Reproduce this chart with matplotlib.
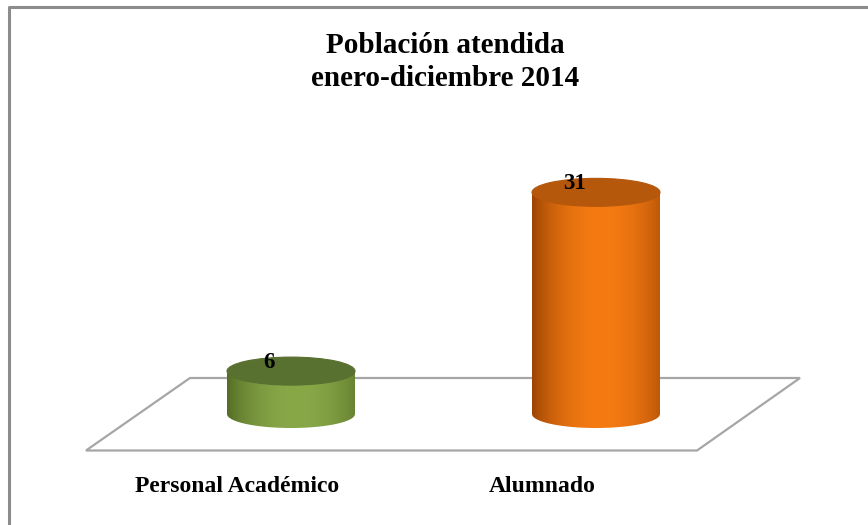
import numpy as np
import matplotlib
matplotlib.use("Agg")
import matplotlib.pyplot as plt
from matplotlib.patches import Ellipse, PathPatch, Polygon
from matplotlib.path import Path
from matplotlib.colors import to_rgb

# data
categories = ["Personal Académico", "Alumnado"]
values = [6, 31]
title = "Población atendida\nenero-diciembre 2014"

# styles per bar: (edge dark, highlight, top colour)
bar_colors = [
    ("#4a611e", "#88a848", "#587030"),
    ("#8a3a00", "#f57a12", "#b5580c"),
]

# layout (pixel-ish x, value units on y)
W, H = 868, 525
px_per_unit = 7.15
base_px = 414
centers = [291, 596]
half_w = 64
ell_h = 14 / px_per_unit          # half-height of ellipses in value units
label_shift = -54                 # category labels sit on the floor's front edge

fig = plt.figure(figsize=(W / 100, H / 100), dpi=100)
ax = fig.add_axes([0, 0, 1, 1])
ax.set_xlim(0, W)
ax.set_ylim(-(H - base_px) / px_per_unit, base_px / px_per_unit)
ax.axis("off")

def py(p):
    # pixel row -> value units
    return (base_px - p) / px_per_unit

# outer frame (only left/top edges are visible)
ax.plot([8.5, 8.5, W], [py(H), py(6.5), py(6.5)], color="#8c8c8c", lw=2.2,
        solid_capstyle="butt", zorder=1)

# floor
floor = Polygon([(190, py(378)), (800, py(378)), (697, py(450.5)), (86, py(450.5))],
                closed=True, fc="white", ec="#a6a6a6", lw=1.6, zorder=2)
ax.add_patch(floor)

def shade(dark, light, n=256):
    t = np.linspace(0, 1, n)
    f = np.clip(1 - ((t - 0.55) / 0.58) ** 2, 0, 1) ** 0.8
    d, l = np.array(to_rgb(dark)), np.array(to_rgb(light))
    return d[None, :] + (l - d)[None, :] * f[:, None]

for cx, v, (dark, light, topc) in zip(centers, values, bar_colors):
    x0, x1 = cx - half_w, cx + half_w
    th = np.linspace(np.pi, 2 * np.pi, 60)
    lower = [(cx + half_w * np.cos(a), ell_h * np.sin(a)) for a in th]
    verts = [(x0, 0), (x0, v), (x1, v), (x1, 0)] + lower[::-1] + [(x0, 0)]
    body = Path(verts, [Path.MOVETO] + [Path.LINETO] * (len(verts) - 2) + [Path.CLOSEPOLY])
    clip = PathPatch(body, fc="none", ec="none", zorder=3)
    ax.add_patch(clip)
    grad = shade(dark, light)[None, :, :]
    im = ax.imshow(grad, extent=(x0, x1, -ell_h, v), aspect="auto",
                   interpolation="bilinear", zorder=3)
    im.set_clip_path(clip)
    top = Ellipse((cx, v), 2 * half_w, 2 * ell_h, fc=topc, ec=topc, lw=0.8, zorder=4)
    ax.add_patch(top)
    ax.text(cx - 22, v + 1.25, f"{v}", ha="center", va="center",
            fontsize=16.5, fontweight="bold", family="Liberation Serif", zorder=5)

for cx, lab in zip(centers, categories):
    ax.text(cx + label_shift, py(487), lab, ha="center", va="center",
            fontsize=17, fontweight="bold", family="Liberation Serif")

ax.text(445, py(62), title, ha="center", va="center", fontsize=21,
        fontweight="bold", family="Liberation Serif", linespacing=1.32)

fig.savefig("out.png", dpi=100)
